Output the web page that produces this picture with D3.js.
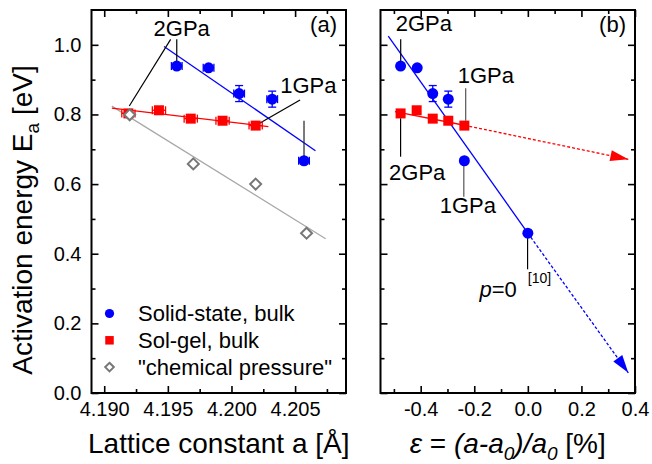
<!DOCTYPE html>
<html lang="en">
<head>
<meta charset="UTF-8">
<title>Activation energy vs lattice constant</title>
<script src="https://d3js.org/d3.v7.min.js"></script>
<style>
  body { margin: 0; background: #fff; }
  svg { display: block; font-family: "Liberation Sans", Arial, sans-serif; }
  .frame { fill: none; stroke: #000; stroke-width: 2; }
  .axis path { display: none; }
  .axis line { stroke: #000; stroke-width: 1.6; }
  .axis text { font-size: 20px; fill: #000; font-family: "Liberation Sans", Arial, sans-serif; }
  .lbl { font-size: 22px; fill: #000; }
  .title { font-size: 28px; fill: #000; }
</style>
</head>
<body>
<script>
// ---- panel (a): lattice constant [Å] vs activation energy [eV]
const ssA    = [4.1957, 4.1982, 4.2006, 4.2032, 4.2057];
const ssE    = [0.939, 0.934, 0.860, 0.844, 0.667];
const ssEerr = [0.005, 0.005, 0.023, 0.023, 0.005];
const ssAerr = 0.00042;
const sgA    = [4.1919, 4.1943, 4.1968, 4.1993, 4.2019];
const sgE    = [0.803, 0.812, 0.788, 0.782, 0.768];
const sgAerr = 0.00052;
const cpA    = [4.1920, 4.1970, 4.2019, 4.2059];
const cpE    = [0.799, 0.658, 0.600, 0.459];
// linear fits, end points
const fitSsA = [4.1947, 4.2066], fitSsE = [0.995, 0.696];
const fitSgA = [4.1906, 4.2029], fitSgE = [0.818, 0.765];
const fitCpA = [4.1906, 4.2074], fitCpE = [0.824, 0.443];

// ---- panel (b): strain [%] vs activation energy [eV]
const ssStrain = [-0.475, -0.413, -0.355, -0.297, -0.237, 0.0];
const ssEb     = [0.939, 0.934, 0.860, 0.844, 0.667, 0.459];
const ssEbErr  = [0, 0, 0.023, 0.023, 0, 0];
const sgStrain = [-0.475, -0.415, -0.355, -0.297, -0.237];
const sgEb     = [0.803, 0.812, 0.788, 0.782, 0.768];
const ssLineS = [-0.521, 0.0],   ssLineE = [1.025, 0.459];
const ssExtS  = [0.0, 0.375],    ssExtE  = [0.459, 0.058];
const sgLineS = [-0.496, -0.237], sgLineE = [0.808, 0.769];
const sgExtS  = [-0.237, 0.375], sgExtE  = [0.769, 0.671];

// ticks
const yTicks = [0, 0.2, 0.4, 0.6, 0.8, 1.0];
const yMinor = [0.1, 0.3, 0.5, 0.7, 0.9];
const aTicks = [4.190, 4.195, 4.200, 4.205];
const aMinor = [4.1925, 4.1975, 4.2025, 4.2075];
const aLabels = ["4.190", "4.195", "4.200", "4.205"];
const sTicks = [-0.4, -0.2, 0.0, 0.2, 0.4];
const sMinor = [-0.5, -0.3, -0.1, 0.1, 0.3];
const sLabels = ["-0.4", "-0.2", "0.0", "0.2", "0.4"];

const BLUE = "#0000ff", RED = "#ff0000", GREY = "#777", GREYLINE = "#a8a8a8";

const W = 652, H = 464, yTop = 10, yBottom = 393;
const svg = d3.select("body").append("svg").attr("width", W).attr("height", H);

const y  = d3.scaleLinear().domain([0, 1.1]).range([yBottom, yTop]);
const xa = d3.scaleLinear().domain([4.189, 4.209]).range([91.5, 346]);
const xb = d3.scaleLinear().domain([-0.55, 0.4]).range([380.5, 635]);

function frame(x, xt, xm, xl, yLabels) {
    const [x0, x1] = x.range();
    const g = svg.append("g");
    const ax = (axis, tr) => g.append("g").attr("class", "axis").attr("transform", tr).call(axis);
    ax(d3.axisBottom(x).tickValues(xt).tickSize(-7).tickPadding(9).tickFormat((d, i) => xl[i]), `translate(0,${yBottom})`);
    ax(d3.axisBottom(x).tickValues(xm).tickSize(-4).tickFormat(""), `translate(0,${yBottom})`);
    ax(d3.axisTop(x).tickValues(xt).tickSize(-7).tickFormat(""), `translate(0,${yTop})`);
    ax(d3.axisTop(x).tickValues(xm).tickSize(-4).tickFormat(""), `translate(0,${yTop})`);
    ax(d3.axisLeft(y).tickValues(yTicks).tickSize(-7).tickPadding(10)
        .tickFormat(yLabels ? d3.format(".1f") : ""), `translate(${x0},0)`);
    ax(d3.axisLeft(y).tickValues(yMinor).tickSize(-4).tickFormat(""), `translate(${x0},0)`);
    ax(d3.axisRight(y).tickValues(yTicks).tickSize(-7).tickFormat(""), `translate(${x1},0)`);
    ax(d3.axisRight(y).tickValues(yMinor).tickSize(-4).tickFormat(""), `translate(${x1},0)`);
    g.append("rect").attr("class", "frame")
        .attr("x", x0).attr("y", yTop).attr("width", x1 - x0).attr("height", yBottom - yTop);
}

function seg(x, xs, ys, color, width, dash) {
    svg.append("line")
        .attr("x1", x(xs[0])).attr("y1", y(ys[0]))
        .attr("x2", x(xs[1])).attr("y2", y(ys[1]))
        .attr("stroke", color).attr("stroke-width", width)
        .attr("stroke-dasharray", dash || null);
}

function arrowHead(x, xs, ys, color) {
    const x1 = x(xs[0]), y1 = y(ys[0]), x2 = x(xs[1]), y2 = y(ys[1]);
    const len = Math.hypot(x2 - x1, y2 - y1), ux = (x2 - x1) / len, uy = (y2 - y1) / len;
    const L = 18, hw = 5.5;
    const bx = x2 - ux * L, by = y2 - uy * L;
    svg.append("polygon")
        .attr("points", [[x2, y2], [bx - uy * hw, by + ux * hw], [bx + uy * hw, by - ux * hw]].map(p => p.join(",")).join(" "))
        .attr("fill", color);
}

function errX(x, xv, yv, e, color) {
    const g = svg.append("g").attr("stroke", color).attr("stroke-width", 1.3);
    const cy = y(yv);
    g.append("line").attr("x1", x(xv - e)).attr("x2", x(xv + e)).attr("y1", cy).attr("y2", cy);
    [xv - e, xv + e].forEach(v => g.append("line").attr("x1", x(v)).attr("x2", x(v)).attr("y1", cy - 4).attr("y2", cy + 4));
}
function errY(x, xv, yv, e, color) {
    if (!e) return;
    const g = svg.append("g").attr("stroke", color).attr("stroke-width", 1.3);
    const cx = x(xv);
    g.append("line").attr("x1", cx).attr("x2", cx).attr("y1", y(yv - e)).attr("y2", y(yv + e));
    [yv - e, yv + e].forEach(v => g.append("line").attr("x1", cx - 4).attr("x2", cx + 4).attr("y1", y(v)).attr("y2", y(v)));
}

const circle = (cx, cy, r) => svg.append("circle").attr("cx", cx).attr("cy", cy).attr("r", r).attr("fill", BLUE);
const square = (cx, cy, s) => svg.append("rect").attr("x", cx - s / 2).attr("y", cy - s / 2).attr("width", s).attr("height", s).attr("fill", RED);
const diamond = (cx, cy, r) => svg.append("polygon")
    .attr("points", `${cx},${cy - r} ${cx + r},${cy} ${cx},${cy + r} ${cx - r},${cy}`)
    .attr("fill", "#fff").attr("stroke", GREY).attr("stroke-width", 2);

function label(x, xv, yv, txt, anchor) {
    return svg.append("text").attr("class", "lbl")
        .attr("x", x(xv)).attr("y", y(yv)).attr("text-anchor", anchor || "middle").text(txt);
}

// ================= panel (a)
frame(xa, aTicks, aMinor, aLabels, true);

seg(xa, fitCpA, fitCpE, GREYLINE, 1.3);
seg(xa, fitSsA, fitSsE, BLUE, 1.3);
seg(xa, fitSgA, fitSgE, RED, 1.3);

// annotations
seg(xa, [4.19522, 4.19197], [1.0158, 0.8243], "#000", 1.2);
seg(xa, [4.19570, 4.19570], [1.0158, 0.9507], "#000", 1.2);
seg(xa, [4.20539, 4.20211], [0.8415, 0.7726], "#000", 1.2);
seg(xa, [4.20570, 4.20570], [0.7821, 0.680], "#222", 1.2);
label(xa, 4.19609, 1.0253, "2GPa");
label(xa, 4.20604, 0.8625, "1GPa");

sgA.forEach((a, i) => { errX(xa, a, sgE[i], sgAerr, RED); square(xa(a), y(sgE[i]), 10); });
cpA.forEach((a, i) => diamond(xa(a), y(cpE[i]), 5.5));
ssA.forEach((a, i) => {
    errX(xa, a, ssE[i], ssAerr, BLUE);
    errY(xa, a, ssE[i], ssEerr[i] > 0.01 ? ssEerr[i] : 0, BLUE);
    circle(xa(a), y(ssE[i]), 5.5);
});

svg.append("text").attr("class", "lbl").attr("x", xa.range()[1] - 9).attr("y", yTop + 22)
    .attr("text-anchor", "end").text("(a)");

// legend
const legend = [
    { name: "Solid-state, bulk", mark: (cx, cy) => circle(cx, cy, 4.6) },
    { name: "Sol-gel, bulk", mark: (cx, cy) => square(cx, cy, 8.5) },
    { name: "\"chemical pressure\"", mark: (cx, cy) => diamond(cx, cy, 4.3) }
];
legend.forEach((d, i) => {
    const cy = 313.5 + i * 26.8;
    d.mark(109.5, cy);
    svg.append("text").attr("class", "lbl").attr("x", 138).attr("y", cy + 7.5).text(d.name);
});

// ================= panel (b)
frame(xb, sTicks, sMinor, sLabels, false);

seg(xb, ssLineS, ssLineE, BLUE, 1.3);
seg(xb, ssExtS, ssExtE, BLUE, 1.3, "3,2");
arrowHead(xb, ssExtS, ssExtE, BLUE);
seg(xb, sgLineS, sgLineE, RED, 1.3);
seg(xb, sgExtS, sgExtE, RED, 1.3, "3,2");
arrowHead(xb, sgExtS, sgExtE, RED);

// annotations
seg(xb, [-0.4746, -0.4746], [1.0158, 0.9507], "#000", 1.2);
seg(xb, [-0.232, -0.232], [0.8751, 0.782], "#555", 1.2);
seg(xb, [-0.475, -0.475], [0.789, 0.6787], "#000", 1.2);
seg(xb, [-0.239, -0.239], [0.652, 0.5638], "#555", 1.2);
seg(xb, [-0.001, -0.001], [0.445, 0.3553], "#000", 1.2);
label(xb, -0.3884, 1.0406, "2GPa");
label(xb, -0.157, 0.8912, "1GPa");
label(xb, -0.413, 0.6118, "2GPa");
label(xb, -0.2238, 0.5161, "1GPa");
const p0 = label(xb, -0.0415, 0.2766, "", "end");
p0.append("tspan").attr("font-style", "italic").text("p");
p0.append("tspan").text("=0");
svg.append("text").attr("x", xb(0.0)).attr("y", y(0.2766) - 14)
    .attr("font-size", 14).text("[10]");

sgStrain.forEach((s, i) => square(xb(s), y(sgEb[i]), 10));
ssStrain.forEach((s, i) => { errY(xb, s, ssEb[i], ssEbErr[i], BLUE); circle(xb(s), y(ssEb[i]), 5.5); });

svg.append("text").attr("class", "lbl").attr("x", xb.range()[1] - 9).attr("y", yTop + 22)
    .attr("text-anchor", "end").text("(b)");

// ================= axis titles
const yt = svg.append("text").attr("class", "title").attr("text-anchor", "middle")
    .attr("transform", "translate(32,220) rotate(-90)");
yt.append("tspan").text("Activation energy E");
yt.append("tspan").attr("font-size", 19).attr("dy", 7).text("a");
yt.append("tspan").attr("dy", -7).text(" [eV]");

svg.append("text").attr("class", "title").attr("text-anchor", "middle")
    .attr("x", d3.mean(xa.range())).attr("y", 453).text("Lattice constant a [Å]");

const xt = svg.append("text").attr("class", "title").attr("text-anchor", "middle")
    .attr("x", d3.mean(xb.range())).attr("y", 453);
xt.append("tspan").attr("font-style", "italic").text("ε");
xt.append("tspan").text(" = ");
xt.append("tspan").attr("font-style", "italic").text("(a-a");
xt.append("tspan").attr("font-style", "italic").attr("font-size", 19).attr("dy", 7).text("0");
xt.append("tspan").attr("font-style", "italic").attr("dy", -7).text(")/a");
xt.append("tspan").attr("font-style", "italic").attr("font-size", 19).attr("dy", 7).text("0");
xt.append("tspan").attr("dy", -7).text(" [%]");
</script>
</body>
</html>
